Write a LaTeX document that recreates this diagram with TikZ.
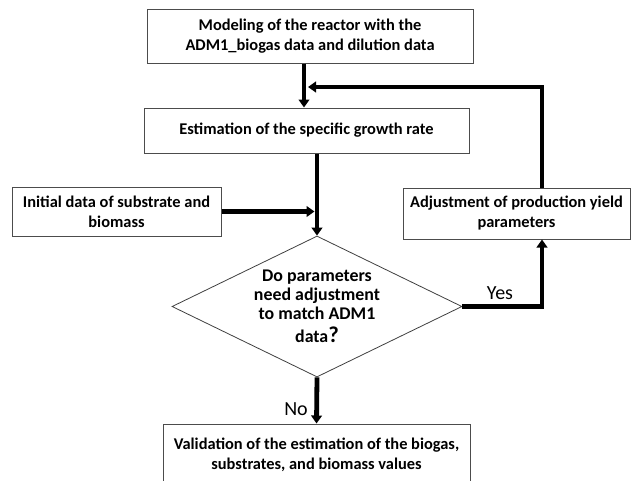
\documentclass[tikz,border=0pt]{standalone}
\usepackage{fontspec}
\setmainfont{Carlito}
\usetikzlibrary{shapes.geometric,arrows.meta}
\begin{document}
\begin{tikzpicture}[x=0.75pt,y=-0.75pt,
  box/.style={draw=black!70, line width=0.75pt, fill=white, align=center, inner sep=0pt,
    font=\fontsize{12.3}{15}\selectfont\bfseries},
  dia/.style={draw=black!75, line width=0.6pt, shape=diamond, inner sep=0pt},
  diatext/.style={align=center, inner sep=0pt, font=\fontsize{13.4}{14.4}\selectfont\bfseries},
  arr/.style={line width=3.6pt, line join=miter, -{Triangle[width=8pt,length=6pt]}},
  lbl/.style={font=\fontsize{15}{18}\selectfont, inner sep=1pt}]
\clip (0,0) rectangle (631,480);
\fill[white] (0,0) rectangle (631,480);
\node[box, minimum width=244.5pt, minimum height=40.5pt] (top) at (310,36)
  {Modeling of the reactor with the\\ADM1\_biogas data and dilution data};
\node[box, minimum width=243.75pt, minimum height=33.75pt] (est) at (306.5,130.5)
  {Estimation of the specific growth rate};
\node[box, minimum width=156.75pt, minimum height=36.75pt] (init) at (116.5,211.5)
  {Initial data of substrate and\\biomass};
\node[box, minimum width=170.25pt, minimum height=38.25pt] (adj) at (516.5,213.5)
  {Adjustment of production yield\\parameters};
\node[dia, minimum width=217.5pt, minimum height=105.75pt] (q) at (317,306.5) {};
\node[diatext] (qt) at (317,306) 
  {Do parameters\\need adjustment\\to match ADM1\\[2.5pt]data{\fontsize{17}{14}\selectfont ?}};
\node[box, minimum width=230.25pt, minimum height=45.75pt] (val) at (316.5,454.5)
  {Validation of the estimation of the biogas,\\substrates, and biomass values};
\coordinate (xa) at (304,0);
\coordinate (xr) at (542,0);
\coordinate (j1) at (308,87);
\coordinate (xj2) at (314.5,0);
\draw[arr] (top.south -| xa) -- (est.north -| xa);
\draw[arr] (adj.north -| xr) |- (j1);
\draw[arr] (est.south -| q.north) -- (q.north);
\draw[arr] (init.east) -- (init.east -| xj2);
\draw[arr] (q.east) -| (adj.south -| xr);
\draw[arr] (q.south) -- (val.north);
\node[lbl] (yes) at (500,293) {Yes};
\node[lbl] (no) at (296,409) {No};
\end{tikzpicture}
\end{document}
